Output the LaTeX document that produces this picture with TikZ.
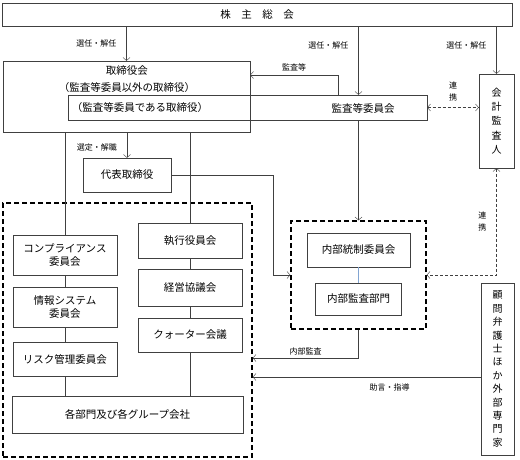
\documentclass[tikz,border=0pt]{standalone}
\usepackage{fontspec}
\setmainfont{Noto Sans CJK JP}
\usetikzlibrary{arrows.meta}
\colorlet{ink}{black!75}
\definecolor{bond}{RGB}{130,165,210}
\tikzstyle{block} = [
    draw=ink,
    rectangle,
    inner sep=0pt,
    align=center,
    font=\fontsize{10.5}{13.5}\selectfont
]
\tikzstyle{tall} = [block, font=\fontsize{10}{14.2}\selectfont]
\tikzstyle{caption} = [align=center, inner sep=0pt, font=\fontsize{10.5}{17}\selectfont]
\tikzstyle{frame} = [draw=black, line width=1.4pt, dash pattern=on 5pt off 3pt, rectangle, inner sep=0pt]
\tikzstyle{note} = [align=center, inner sep=1pt, font=\fontsize{8}{12}\selectfont]
\tikzstyle{flow} = [draw=ink, -{Straight Barb[length=3pt, width=7pt]}]
\tikzstyle{link} = [draw=ink, dash pattern=on 3pt off 2pt,
    {Straight Barb[length=3pt, width=7pt]}-{Straight Barb[length=3pt, width=7pt]}]
\tikzstyle{wire} = [draw=ink]

\begin{document}
\begin{tikzpicture}[x=1pt, y=-1pt]
    \useasboundingbox (0, 0) rectangle (520, 460);

    % Top.
    \node (shareholders) [block, minimum width=510, minimum height=23] at (257, 14.5)
        {株\quad 主\quad 総\quad 会};

    \node (board) [block, minimum width=247, minimum height=71] at (126.5, 96.5) {};
    \node (board title) [caption] at (127, 79.5) {取締役会\\（監査等委員以外の取締役）};
    \node (audit) [block, minimum width=359, minimum height=25] at (247.5, 107.5) {};
    \node (audit members) [caption] at (140, 108) {（監査等委員である取締役）};
    \node (audit title) [caption] at (363, 108) {監査等委員会};

    \node (auditor) [tall, minimum width=35, minimum height=94] at (496.5, 121)
        {会\\計\\監\\査\\人};

    \node (representative) [block, minimum width=88, minimum height=34] at (127, 175) {代表取締役};

    % Execution side.
    \node (group frame) [frame, minimum width=249, minimum height=254] at (127.5, 330) {};

    \node (compliance) [block, minimum width=104, minimum height=40] at (65, 255)
        {コンプライアンス\\委員会};
    \node (info system) [block, minimum width=104, minimum height=40] at (65, 307)
        {情報システム\\委員会};
    \node (risk) [block, minimum width=104, minimum height=34] at (65, 359) {リスク管理委員会};

    \node (executive) [block, minimum width=104, minimum height=35] at (190, 240.5) {執行役員会};
    \node (management) [block, minimum width=104, minimum height=37] at (190, 287.5) {経営協議会};
    \node (quarter) [block, minimum width=104, minimum height=34] at (190, 335) {クォーター会議};

    \node (divisions) [block, minimum width=231, minimum height=37] at (127.5, 414.5)
        {各部門及び各グループ会社};

    % Internal control.
    \node (control frame) [frame, minimum width=135, minimum height=108] at (358.5, 275) {};
    \node (control) [block, minimum width=103, minimum height=34] at (358.5, 250) {内部統制委員会};
    \node (internal audit) [block, minimum width=86, minimum height=32] at (358.5, 299) {内部監査部門};

    \node (advisors) [tall, minimum width=33, minimum height=172, font=\fontsize{10}{13.4}\selectfont]
        at (497.5, 369) {顧\\問\\弁\\護\\士\\ほ\\か\\外\\部\\専\\門\\家};

    % Bends.
    \node (audit report) [coordinate] at (338, 75) {};
    \node (rep bend) [coordinate] at (273, 175) {};
    \node (audit turn) [coordinate] at (358.5, 358) {};
    \node (advice) [coordinate] at (481, 377) {};

    % Paths.
    \draw [flow] (shareholders.south -| board.north) -- node [note, left=9pt, pos=0.5] {選任・解任} (board.north);
    \draw [flow] (shareholders.south -| control frame.north) -- node [note, left=9pt, pos=0.28] {選任・解任}
        (audit.north -| control frame.north);
    \draw [flow] (shareholders.south -| auditor.north) -- node [note, left=9pt, pos=0.4] {選任・解任} (auditor.north);

    \draw [flow] (audit report |- audit.north) -- (audit report)
        -- node [note, above=3pt] {監査等} (audit report -| board.east);
    \draw [link] (audit.east) -- node [note, above=5pt] {連\\携} (auditor.west |- audit.east);

    \draw [flow] (board.south -| representative.north) -- node [note, left=9pt, pos=0.6] {選定・解職}
        (representative.north);
    \draw [wire] (board.south -| compliance.north) -- (compliance.north);
    \draw [wire] (board.south -| executive.north) -- (executive.north);

    \draw [wire] (compliance) -- (info system);
    \draw [wire] (info system) -- (risk);
    \draw [wire] (risk.south) -- (risk.south |- divisions.north);
    \draw [wire] (executive) -- (management);
    \draw [wire] (management) -- (quarter);
    \draw [wire] (quarter.south) -- (quarter.south |- divisions.north);

    \draw [flow] (representative.east) -- (rep bend) |- (control frame.west);
    \draw [flow] (audit.south -| control frame.north) -- (control frame.north);
    \draw [draw=bond] (control.south) -- (internal audit.north);
    \draw [link] (auditor.south) |- node [note, left=9pt, pos=0.25] {連\\携} (control frame.east);

    \draw [flow] (control frame.south) -- (audit turn)
        -- node [note, above=2pt] {内部監査} (audit turn -| group frame.east);
    \draw [flow] (advice) -- node [note, below=6pt, pos=0.4] {助言・指導} (advice -| group frame.east);
\end{tikzpicture}
\end{document}
